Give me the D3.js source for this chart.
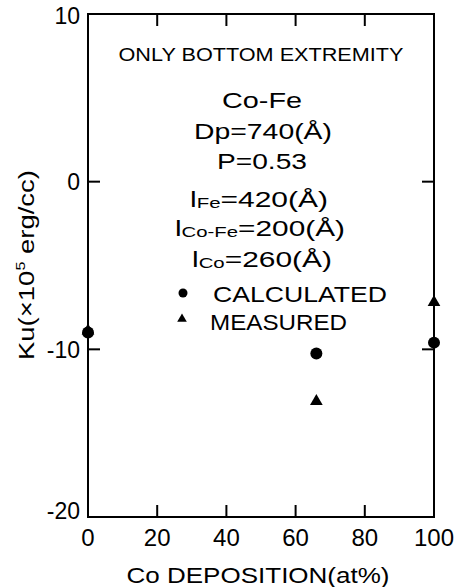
<!DOCTYPE html>
<html><head><meta charset="utf-8">
<script src="https://cdn.jsdelivr.net/npm/d3@7"></script>
<style>body{margin:0;background:#fff}svg{display:block}text{font-family:"Liberation Sans",Arial,sans-serif;fill:#000}</style>
</head><body>
<svg id="c" width="455" height="587"></svg>
<script>
const xTicks = [0, 20, 40, 60, 80, 100];
const yTicks = [10, 0, -10, -20];
const calcX = [0, 66, 100];
const calcY = [-9.0, -10.25, -9.6];
const measX = [0, 66, 100];
const measY = [-8.9, -13.1, -7.2];
const xLabel = "Co DEPOSITION(at%)";
const notes = ["ONLY BOTTOM EXTREMITY", "Co-Fe", "Dp=740(Å)", "P=0.53"];
const lengths = [["Fe", "=420(Å)"], ["Co-Fe", "=200(Å)"], ["Co", "=260(Å)"]];
const legendNames = ["CALCULATED", "MEASURED"];

const svg = d3.select("#c");
const L = 88, R = 434, T = 14, B = 517;
const x = d3.scaleLinear().domain([0, 100]).range([L, R]);
const y = d3.scaleLinear().domain([-20, 10]).range([B, T]);

// frame
svg.append("rect").attr("x", L).attr("y", T).attr("width", R - L).attr("height", B - T)
  .attr("fill", "none").attr("stroke", "#000").attr("stroke-width", 2);

const tl = 12;
const innerX = xTicks.filter(d => d > 0 && d < 100);
const innerY = yTicks.filter(d => d > -20 && d < 10);
const g = svg.append("g").attr("stroke", "#000").attr("stroke-width", 2);
innerX.forEach(d => {
  g.append("line").attr("x1", x(d)).attr("x2", x(d)).attr("y1", B).attr("y2", B - tl);
  g.append("line").attr("x1", x(d)).attr("x2", x(d)).attr("y1", T).attr("y2", T + tl);
});
innerY.forEach(d => {
  g.append("line").attr("x1", L).attr("x2", L + tl).attr("y1", y(d)).attr("y2", y(d));
  g.append("line").attr("x1", R).attr("x2", R - tl).attr("y1", y(d)).attr("y2", y(d));
});

function fitText(sel, w) {
  sel.attr("textLength", w).attr("lengthAdjust", "spacingAndGlyphs");
}

// tick labels
xTicks.forEach(d => {
  svg.append("text").attr("x", x(d)).attr("y", 546).attr("text-anchor", "middle")
    .attr("font-size", 24).text(d);
});
const yLabOff = {"10": 10, "0": 8, "-10": 9, "-20": 2};
yTicks.forEach(d => {
  svg.append("text").attr("x", 80).attr("y", y(d) + yLabOff[String(d)]).attr("text-anchor", "end")
    .attr("font-size", 23).text(d < 0 ? "-" + Math.abs(d) : d);
});

// axis labels
fitText(svg.append("text").attr("x", 258).attr("y", 583).attr("text-anchor", "middle")
  .attr("font-size", 22).text(xLabel), 263);

const yl = svg.append("text").attr("transform", "translate(34,265) rotate(-90)")
  .attr("text-anchor", "middle").attr("font-size", 22);
yl.append("tspan").text("Ku(×10");
yl.append("tspan").attr("font-size", 13).attr("dy", -9).text("5");
yl.append("tspan").attr("dy", 9).text(" erg/cc)");
fitText(yl, 190);

// notes
const noteCfg = [[261, 61, 18, 285], [262, 108, 22, 80], [263, 139, 22, 138], [262, 169, 22, 90]];
notes.forEach((t, i) => {
  const c = noteCfg[i];
  fitText(svg.append("text").attr("x", c[0]).attr("y", c[1]).attr("text-anchor", "middle")
    .attr("font-size", c[2]).text(t), c[3]);
});
const lenCfg = [[190, 207, 138], [175, 236, 170], [192, 267, 140]];
lengths.forEach((p, i) => {
  const c = lenCfg[i];
  const t = svg.append("text").attr("x", c[0]).attr("y", c[1]).attr("font-size", 22);
  t.append("tspan").text("l");
  t.append("tspan").attr("font-size", 15).attr("dy", 1).text(p[0]);
  t.append("tspan").attr("dy", -1).text(p[1]);
  fitText(t, c[2]);
});

// legend
svg.append("circle").attr("cx", 183).attr("cy", 293).attr("r", 4.5).attr("fill", "#000");
svg.append("path").attr("transform", "translate(182,319)")
  .attr("d", d3.symbol(d3.symbolTriangle, 40)()).attr("fill", "#000");
fitText(svg.append("text").attr("x", 213).attr("y", 302).attr("font-size", 22).text(legendNames[0]), 174);
fitText(svg.append("text").attr("x", 210).attr("y", 330).attr("font-size", 22).text(legendNames[1]), 137);

// data
calcX.forEach((d, i) => {
  svg.append("circle").attr("cx", x(d)).attr("cy", y(calcY[i])).attr("r", 6).attr("fill", "#000");
});
measX.forEach((d, i) => {
  svg.append("path").attr("transform", `translate(${x(d)},${y(measY[i])})`)
    .attr("d", d3.symbol(d3.symbolTriangle, 70)()).attr("fill", "#000");
});
</script>
</body></html>
